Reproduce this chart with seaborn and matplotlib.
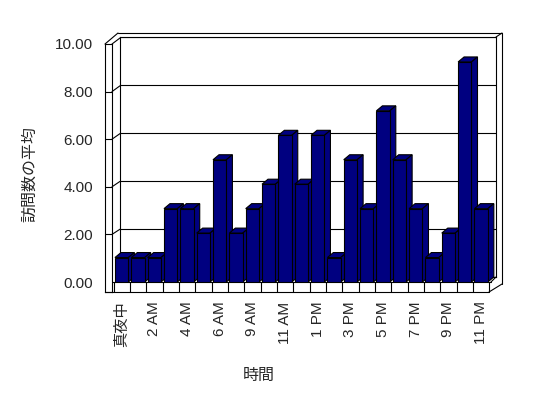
import numpy as np
import matplotlib
matplotlib.use("Agg")
import matplotlib.pyplot as plt
from matplotlib.patches import Polygon
import seaborn as sns

# Data
hours = ["真夜中", "1 AM", "2 AM", "3 AM", "4 AM", "5 AM", "6 AM", "8 AM",
         "9 AM", "10 AM", "11 AM", "12 PM", "1 PM", "2 PM", "3 PM", "4 PM",
         "5 PM", "6 PM", "7 PM", "8 PM", "9 PM", "10 PM", "11 PM"]
visits = [1, 1, 1, 3, 3, 2, 5, 2, 3, 4, 6, 4, 6, 1, 5, 3, 7, 5, 3, 1, 2, 9, 3]
y_ticks = [0, 2, 4, 6, 8, 10]

x_title = "時間"
y_title = "訪問数の平均"
bar_color = "#000080"

sns.set_style("white")
plt.rcParams["font.family"] = ["Liberation Sans", "Noto Sans CJK JP"]

W, H = 548, 398
fig = plt.figure(figsize=(W / 100, H / 100), dpi=100)


def box(x0, y0, x1, y1):
    # pixel box (y down) -> figure fraction rect
    return [x0 / W, 1 - y1 / H, (x1 - x0) / W, (y1 - y0) / H]


# decoration layer in pixel coordinates
deco = fig.add_axes([0, 0, 1, 1], zorder=0)
deco.set_xlim(0, W)
deco.set_ylim(H, 0)
deco.axis("off")

# back wall
wall = fig.add_axes(box(120, 37, 496, 277), zorder=1)
wall.set_ylim(0, 10)
wall.set_xlim(0, 1)
wall.set_yticks(y_ticks)
wall.set_xticks([])
wall.tick_params(left=False, labelleft=False)
wall.grid(axis="y", color="black", lw=0.8)
wall.patch.set_alpha(0)
for s in wall.spines.values():
    s.set_color("black")
    s.set_linewidth(0.8)

# left wall edge with the value axis
edge = fig.add_axes(box(105, 44, 112, 292), zorder=1)
edge.set_ylim(-0.42, 10)
edge.set_xlim(0, 1)
edge.set_yticks(y_ticks, [f"{v:.2f}" for v in y_ticks])
edge.set_xticks([])
edge.tick_params(axis="y", length=0, pad=8.6, labelsize=11)
edge.hlines(y_ticks[1:-1], 0, 1, color="black", lw=0.8)
edge.patch.set_alpha(0)
for s in edge.spines.values():
    s.set_color("black")
    s.set_linewidth(0.8)

lk = dict(color="black", lw=0.8)
# left wall inner face and top slab
for v in y_ticks[1:]:
    deco.plot([112, 120], [282 - 23.8 * v, 277 - 23.9 * v], **lk)
deco.plot([105, 118], [44, 33], **lk)
deco.plot([118, 502], [33, 33], **lk)
deco.plot([496, 502], [37, 33], **lk)
deco.plot([502, 502], [33, 284], **lk)
deco.plot([489, 502], [292, 284], **lk)
deco.plot([491, 496], [282, 277], **lk)
deco.plot([112, 491], [282, 282], **lk)
deco.plot([105, 489], [292, 292], **lk)

# bars (front plane)
ax = fig.add_axes(box(113.5, 37.5, 489.3, 282), zorder=3)
ax.patch.set_alpha(0)
sns.barplot(x=hours, y=visits, order=hours, color=bar_color, saturation=1,
            edgecolor="black", linewidth=0.8, width=0.82, ax=ax)
ax.set_xlim(-0.5, len(hours) - 0.5)
ax.set_ylim(0, 10)
sns.despine(ax=ax, left=True, bottom=True)
ax.set_yticks([])
ax.set_xlabel("")
ax.set_ylabel("")
ax.set_xticks(range(0, len(hours), 2), hours[::2], rotation=90, va="top",
              ha="center", fontsize=11)
ax.tick_params(axis="x", length=0, pad=14)

# floor dividers
ax.vlines(np.arange(-0.5, len(hours)), -0.409, 0, color="black", lw=0.8,
          clip_on=False)

# 3D faces for each bar
ddx, ddy = 6 / 16.34, 5 / 24.45
for i, p in enumerate(ax.patches):
    x0, w, h = p.get_x(), p.get_width(), p.get_height()
    z = 3 + 0.01 * i
    p.set_zorder(z + 0.005)
    top = Polygon([(x0, h), (x0 + w, h), (x0 + w + ddx, h + ddy), (x0 + ddx, h + ddy)],
                  closed=True, fc=bar_color, ec="black", lw=0.8, zorder=z, clip_on=False)
    side = Polygon([(x0 + w, 0), (x0 + w, h), (x0 + w + ddx, h + ddy), (x0 + w + ddx, ddy)],
                   closed=True, fc=bar_color, ec="black", lw=0.8, zorder=z, clip_on=False)
    ax.add_patch(top)
    ax.add_patch(side)

fig.text(259 / W, 1 - 375 / H, x_title, ha="center", va="center", fontsize=11.5)
fig.text(30 / W, 1 - 174 / H, y_title, ha="center", va="center", rotation=90,
         fontsize=11.5)

fig.savefig("out.png", dpi=100)
